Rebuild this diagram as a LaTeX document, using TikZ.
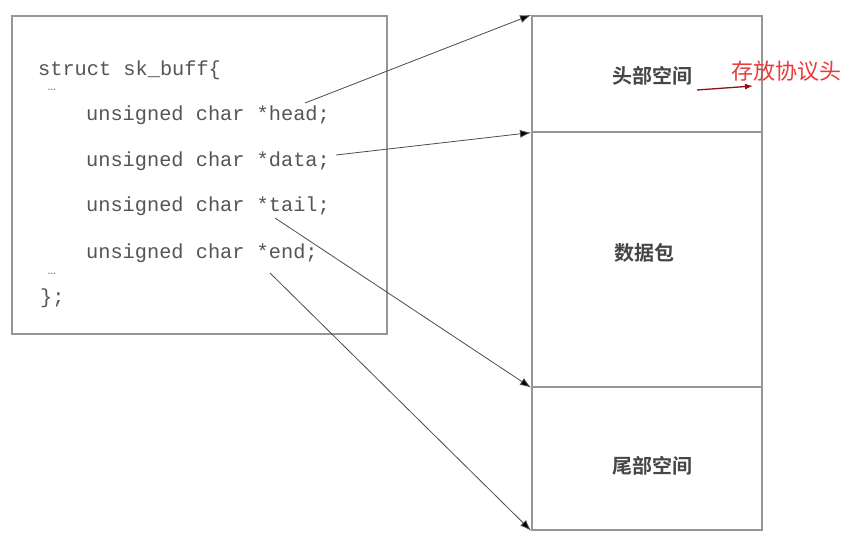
\documentclass[tikz,border=0pt]{standalone}
\usepackage{fontspec}
\setmonofont{Liberation Mono}
\newfontfamily\cjk{Noto Sans CJK SC}
\newfontfamily\cjkb{Noto Sans CJK SC Bold}
\usetikzlibrary{arrows.meta}
\definecolor{boxgray}{RGB}{150,150,150}
\definecolor{codegray}{RGB}{85,85,85}
\definecolor{lblgray}{RGB}{70,70,70}
\definecolor{darkred}{RGB}{140,20,20}
\definecolor{lightred}{RGB}{230,60,60}
\begin{document}
\begin{tikzpicture}[x=1pt,y=-1pt,
  codeline/.style={anchor=west,inner sep=0pt,font=\fontsize{20.3}{22}\ttfamily,text=codegray},
  dots/.style={anchor=west,inner sep=0pt,font=\fontsize{16}{18}\selectfont,text=codegray},
  seg/.style={draw=boxgray,line width=1.6pt,minimum width=230pt,inner sep=0pt,anchor=north west},
  lbl/.style={font=\fontsize{20}{22}\cjkb,text=lblgray},
  ptr/.style={draw=black!70,line width=0.8pt,-{Latex[length=11pt,width=8pt,fill=black]}}]
\useasboundingbox (0,0) rectangle (850,551);
\fill[white] (0,0) rectangle (850,551);
% left struct box
\node[draw=boxgray,line width=1.6pt,minimum width=375pt,minimum height=318pt,inner sep=0pt,anchor=north west] (sbox) at (11,15) {};
\node[codeline] (l0) at (38,70) {struct sk\_buff\{};
\node[dots] (d1) at (47,90) {…};
\node[codeline] (l1) at (86,115) {unsigned char *head;};
\node[codeline] (l2) at (86,161) {unsigned char *data;};
\node[codeline] (l3) at (86,206) {unsigned char *tail;};
\node[codeline] (l4) at (86,253) {unsigned char *end;};
\node[dots] (d2) at (47,274) {…};
\node[codeline] (l5) at (40,298) {\};};
% right segments
\node[seg,minimum height=116pt] (hs) at (531,15) {};
\node[seg,minimum height=255pt] (ds) at (531,131) {};
\node[seg,minimum height=143pt] (ts) at (531,386) {};
\node[lbl] (hl) at (652,76) {头部空间};
\node[lbl] (dl) at (644,253) {数据包};
\node[lbl] (tl) at (652,466) {尾部空间};
\node[font=\fontsize{22}{24}\cjk,text=lightred] (note) at (786,71) {存放协议头};
% pointer start points
\coordinate (p1) at (305,103);
\coordinate (p2) at (336,155);
\coordinate (p3) at (275,218);
\coordinate (p4) at (270,273);
\coordinate (r1) at (697,90);
\coordinate (r2) at (753,86);
\draw[ptr] (p1) -- (hs.north west);
\draw[ptr] (p2) -- (hs.south west);
\draw[ptr] (p3) -- (ds.south west);
\draw[ptr] (p4) -- (ts.south west);
\draw[draw=darkred,line width=1.3pt,-{Latex[length=8pt,width=6pt]}] (r1) -- (r2);
\end{tikzpicture}
\end{document}
